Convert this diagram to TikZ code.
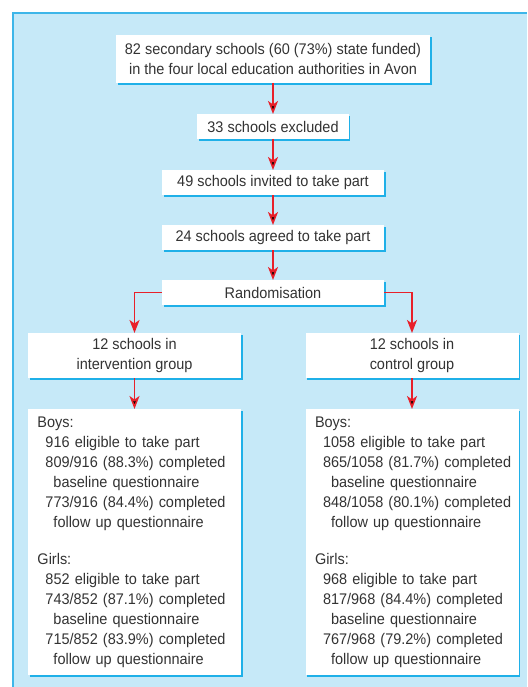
\documentclass[tikz,border=0pt]{standalone}
\usepackage{fontspec}
\setmainfont{Liberation Sans}[FakeStretch=0.94]
\usepackage{tikz}
\usetikzlibrary{positioning}
\usetikzlibrary{shadows}
\usetikzlibrary{arrows.meta}
\definecolor{panelblue}{HTML}{C6E9F8}
\definecolor{edgeblue}{HTML}{3DB6E9}
\definecolor{shadowblue}{HTML}{1FB0E8}
\definecolor{arrowred}{HTML}{E8202A}
\definecolor{textgrey}{HTML}{333333}

\begin{document}
\begin{tikzpicture}[%
	base/.style={fill=white, align=center, outer sep=0pt, inner sep=0pt,
		text=textgrey, font=\fontsize{15.4}{20}\selectfont,
		drop shadow={shadow xshift=1.8pt, shadow yshift=-1.8pt,
			fill=shadowblue, opacity=1}},
	rect/.style={base, minimum width=222pt, minimum height=25pt},
	group/.style={base, minimum width=213pt, minimum height=45pt},
	result/.style={base, align=left, text width=194pt, inner xsep=9.5pt,
		minimum height=266pt},%
	arrow/.style={draw=arrowred, line width=1.6pt,
		arrows={-Stealth[length=13pt, width=10pt, inset=3.5pt]}}%
	]
	\useasboundingbox (-273pt,59pt) rectangle (254pt,-628pt);
	\fill[panelblue] (-260pt,-628pt) rectangle (254pt,46pt);
	\draw[edgeblue, line width=1.5pt] (-260pt,-628pt) |- (254pt,46pt);
	%
	% Nodes
	%
	\node[rect, minimum width=314pt, minimum height=48pt] (SCHOOLS) at (0, 0)
		{82 secondary schools (60 (73\%) state funded)\\ in the four local education authorities in Avon};
	\node[rect, minimum width=151pt, below=31pt of SCHOOLS] (EXCLUDED) {33 schools excluded};
	\node[rect, below=31pt of EXCLUDED] (INVITED) {49 schools invited to take part};
	\node[rect, below=30pt of INVITED] (AGREED) {24 schools agreed to take part};
	\node[rect, below=30pt of AGREED] (RANDOM) {Randomisation};
	\node[group, below=28pt of RANDOM, xshift=-138.5pt] (INTERVENTION) {12 schools in\\ intervention group};
	\node[group, below=28pt of RANDOM, xshift=139pt] (CONTROL) {12 schools in\\ control group};
	\node[result, below=31pt of INTERVENTION] (INTOUT) {\begin{tabular}{@{}l@{}}
		Boys:\\
		\hspace*{8pt}916 eligible to take part\\
		\hspace*{8pt}809/916 (88.3\%) completed\\
		\hspace*{16pt}baseline questionnaire\\
		\hspace*{8pt}773/916 (84.4\%) completed\\
		\hspace*{16pt}follow up questionnaire\\[17.6pt]
		Girls:\\
		\hspace*{8pt}852 eligible to take part\\
		\hspace*{8pt}743/852 (87.1\%) completed\\
		\hspace*{16pt}baseline questionnaire\\
		\hspace*{8pt}715/852 (83.9\%) completed\\
		\hspace*{16pt}follow up questionnaire
		\end{tabular}};
	\node[result, below=31pt of CONTROL] (CONOUT) {\begin{tabular}{@{}l@{}}
		Boys:\\
		\hspace*{8pt}1058 eligible to take part\\
		\hspace*{8pt}865/1058 (81.7\%) completed\\
		\hspace*{16pt}baseline questionnaire\\
		\hspace*{8pt}848/1058 (80.1\%) completed\\
		\hspace*{16pt}follow up questionnaire\\[17.6pt]
		Girls:\\
		\hspace*{8pt}968 eligible to take part\\
		\hspace*{8pt}817/968 (84.4\%) completed\\
		\hspace*{16pt}baseline questionnaire\\
		\hspace*{8pt}767/968 (79.2\%) completed\\
		\hspace*{16pt}follow up questionnaire
		\end{tabular}};
	\path[arrow] (SCHOOLS) edge (EXCLUDED);
	\path[arrow] (EXCLUDED) edge (INVITED);
	\path[arrow] (INVITED) edge (AGREED);
	\path[arrow] (AGREED) edge (RANDOM);
	\draw[arrow] (RANDOM.west) -| (INTERVENTION.north);
	\draw[arrow] (RANDOM.east) -| (CONTROL.north);
	\path[arrow] (INTERVENTION) edge (INTOUT);
	\path[arrow] (CONTROL) edge (CONOUT);
\end{tikzpicture}
\end{document}
